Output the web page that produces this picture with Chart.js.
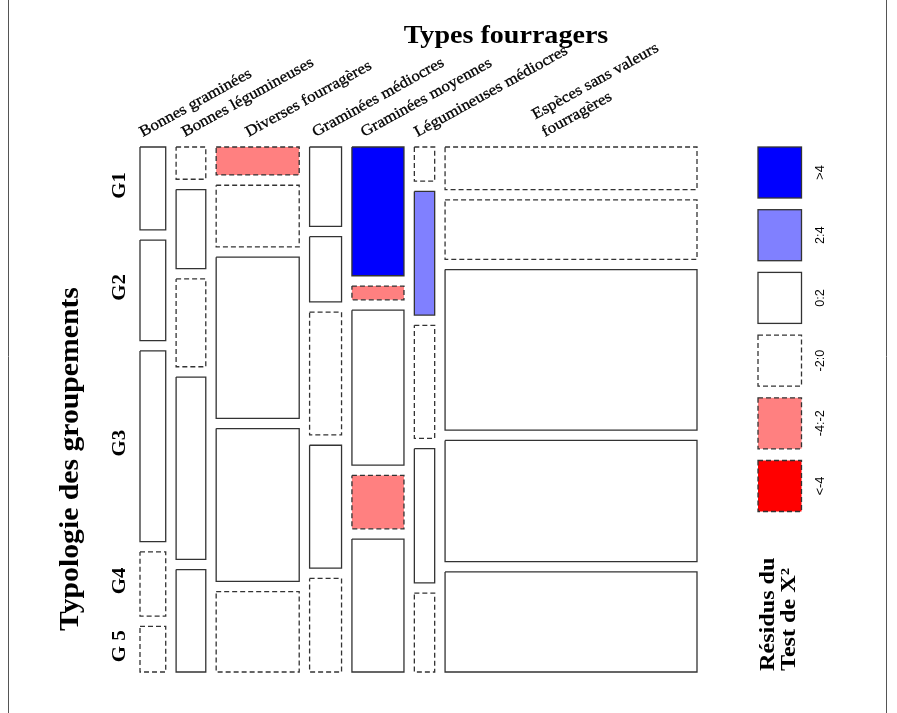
<!DOCTYPE html>
<html>
<head>
<meta charset="utf-8">
<script src="https://cdn.jsdelivr.net/npm/chart.js@4.4.1/dist/chart.umd.min.js"></script>
<style>
  html, body { margin: 0; padding: 0; background: #fff; }
  #wrap { width: 897px; height: 713px; position: relative; }
</style>
</head>
<body>
<div id="wrap"><canvas id="mosaic" width="897" height="713"></canvas></div>
<script>
// Forage types (columns) and plant-community groups (rows)
const types = [
  "Bonnes graminées",
  "Bonnes légumineuses",
  "Diverses fourragères",
  "Graminées médiocres",
  "Graminées moyennes",
  "Légumineuses médiocres",
  ["Espèces sans valeurs", "fourragères"]
];
const groups = ["G1", "G2", "G3", "G4", "G 5"];

// Share of the total (%) for each group across the forage types
const partG1 = [0.89, 0.40, 0.97, 1.06, 2.80, 0.29, 4.49];
const partG2 = [1.08, 0.98, 2.14, 0.87, 0.30, 1.05, 6.25];
const partG3 = [2.05, 1.09, 5.59, 1.64, 3.37, 0.96, 16.90];
const partG4 = [0.69, 2.26, 5.30, 1.64, 1.16, 1.14, 12.76];
const partG5 = [0.49, 1.27, 2.79, 1.25, 2.89, 0.67, 10.54];

// Pearson residuals of the chi-square test
const residG1 = [1.35, -1.01, -2.10, 1.36, 4.92, -0.75, -1.43];
const residG2 = [1.65, 0.80, -0.05, 0.18, -2.86, 2.32, -0.25];
const residG3 = [1.02, -1.86, 0.40, -0.91, 0.09, -0.95, 0.64];
const residG4 = [-1.69, 1.90, 1.73, 0.07, -2.87, 0.37, 0.04];
const residG5 = [-1.70, 0.22, -0.95, -0.10, 1.75, -0.52, 0.40];

// Legend classes of the residual shading
const legendBreaks = [">4", "2:4", "0:2", "-2:0", "-4:-2", "<-4"];
const legendValues = [5, 3, 1, -1, -3, -5];

const parts = [partG1, partG2, partG3, partG4, partG5];
const resids = [residG1, residG2, residG3, residG4, residG5];

// spacing between tiles, as a fraction of the unit axes
const GAP_X = 0.0210;
const GAP_Y = 0.0213;

function shade(r) {
  if (r > 4)  return { fill: "#0000FF", dash: [] };
  if (r > 2)  return { fill: "#8080FF", dash: [] };
  if (r >= 0) return { fill: "#FFFFFF", dash: [] };
  if (r >= -2) return { fill: "#FFFFFF", dash: [5, 3] };
  if (r >= -4) return { fill: "#FF8080", dash: [5, 3] };
  return { fill: "#FF0000", dash: [5, 3] };
}

const total = parts.flat().reduce((a, b) => a + b, 0);
const colTotals = types.map((_, j) => parts.reduce((s, row) => s + row[j], 0));

// tile geometry in data units
const tiles = [];
const colSpans = [];
let cx = 0;
types.forEach((_, j) => {
  const w = colTotals[j] / total;
  colSpans.push([cx, cx + w]);
  let cy = 0;
  groups.forEach((g, i) => {
    const h = parts[i][j] / colTotals[j];
    tiles.push({ i, j, x0: cx, x1: cx + w, y0: cy, y1: cy + h, r: resids[i][j] });
    cy += h + GAP_Y;
  });
  cx += w + GAP_X;
});
const xMax = cx - GAP_X;
const yMax = 1 + GAP_Y * (groups.length - 1);

const datasets = tiles.map(t => {
  const s = shade(t.r);
  return {
    label: groups[t.i] + " / " + (Array.isArray(types[t.j]) ? types[t.j].join(" ") : types[t.j]),
    data: [
      { x: t.x0, y: t.y0 }, { x: t.x1, y: t.y0 },
      { x: t.x1, y: t.y1 }, { x: t.x0, y: t.y1 }, { x: t.x0, y: t.y0 }
    ],
    showLine: true,
    fill: "shape",
    backgroundColor: s.fill,
    borderColor: "#333333",
    borderWidth: 1.3,
    borderDash: s.dash,
    borderJoinStyle: "miter",
    pointRadius: 0,
    pointHoverRadius: 0,
    tension: 0,
    clip: false
  };
});

function drawText(ctx, s, x, y, rot, font, align, sx, weight) {
  ctx.save();
  ctx.translate(x, y);
  ctx.rotate(rot * Math.PI / 180);
  ctx.scale(sx || 1, 1);
  ctx.font = font;
  ctx.textAlign = align;
  ctx.textBaseline = "alphabetic";
  ctx.fillStyle = "#000";
  ctx.fillText(s, 0, 0);
  if (weight) {
    ctx.strokeStyle = "#000";
    ctx.lineWidth = weight;
    ctx.strokeText(s, 0, 0);
  }
  ctx.restore();
}

const SERIF = "'Liberation Serif', 'DejaVu Serif', serif";
const SANS = "'Liberation Sans', Arial, sans-serif";

const decor = {
  id: "decor",
  beforeDraw(chart) {
    const ctx = chart.ctx;
    ctx.save();
    ctx.fillStyle = "#fff";
    ctx.fillRect(0, 0, chart.width, chart.height);
    ctx.strokeStyle = "#555";
    ctx.lineWidth = 1;
    ctx.beginPath();
    ctx.moveTo(8.5, 0); ctx.lineTo(8.5, chart.height);
    ctx.moveTo(886.5, 0); ctx.lineTo(886.5, chart.height);
    ctx.stroke();
    ctx.restore();
  },
  afterDraw(chart) {
    const ctx = chart.ctx;
    const xs = chart.scales.x, ys = chart.scales.y;
    const area = chart.chartArea;

    // main title
    drawText(ctx, "Types fourragers", 506, 43, 0, "bold 26px " + SERIF, "center", 1.08);

    // column labels
    const labelShift = [-10, -6, -9, -10, -14, -7, -26];
    types.forEach((t, j) => {
      const mid = xs.getPixelForValue((colSpans[j][0] + colSpans[j][1]) / 2) + labelShift[j];
      const lines = Array.isArray(t) ? t : [t];
      const ang = -29 * Math.PI / 180;
      lines.forEach((ln, k) => {
        const up = (lines.length - 1 - k) * 20;
        const x = mid + up * Math.sin(ang);
        const y = area.top - 10 - up * Math.cos(ang);
        drawText(ctx, ln, x, y, -29, "15.5px " + SERIF, "left", 1.1, 0.3);
      });
    });

    // row labels, placed on the first column's tiles
    tiles.filter(t => t.j === 0).forEach(t => {
      const y = ys.getPixelForValue((t.y0 + t.y1) / 2) - 3;
      drawText(ctx, groups[t.i], 125, y, -90, "bold 19px " + SERIF, "center", 1.1);
    });

    // left axis title
    drawText(ctx, "Typologie des groupements", 78, 459, -90, "bold 27px " + SERIF, "center", 1.1);

    // shading legend
    const lx = area.right + 61, bw = 43.5, bh = 51, step = 62.7;
    legendBreaks.forEach((lab, k) => {
      const s = shade(legendValues[k]);
      const y0 = area.top + k * step;
      ctx.save();
      ctx.fillStyle = s.fill;
      ctx.fillRect(lx, y0, bw, bh);
      ctx.strokeStyle = "#333333";
      ctx.lineWidth = 1.3;
      ctx.setLineDash(s.dash);
      ctx.strokeRect(lx, y0, bw, bh);
      ctx.restore();
      drawText(ctx, lab, lx + bw + 22, y0 + bh / 2, -90, "12px " + SANS, "center", 1.05);
    });

    // legend title
    drawText(ctx, "Résidus du", 774, 671, -90, "bold 21px " + SERIF, "left", 1.15);
    drawText(ctx, "Test de X²", 795, 671, -90, "bold 21px " + SERIF, "left", 1.15);
  }
};

new Chart(document.getElementById("mosaic"), {
  type: "scatter",
  data: { datasets },
  options: {
    responsive: false,
    animation: false,
    events: [],
    layout: { padding: { left: 140, right: 200, top: 147, bottom: 41 } },
    plugins: { legend: { display: false }, tooltip: { enabled: false } },
    scales: {
      x: { type: "linear", min: 0, max: xMax, display: false },
      y: { type: "linear", min: 0, max: yMax, reverse: true, display: false }
    }
  },
  plugins: [decor]
});
</script>
</body>
</html>
